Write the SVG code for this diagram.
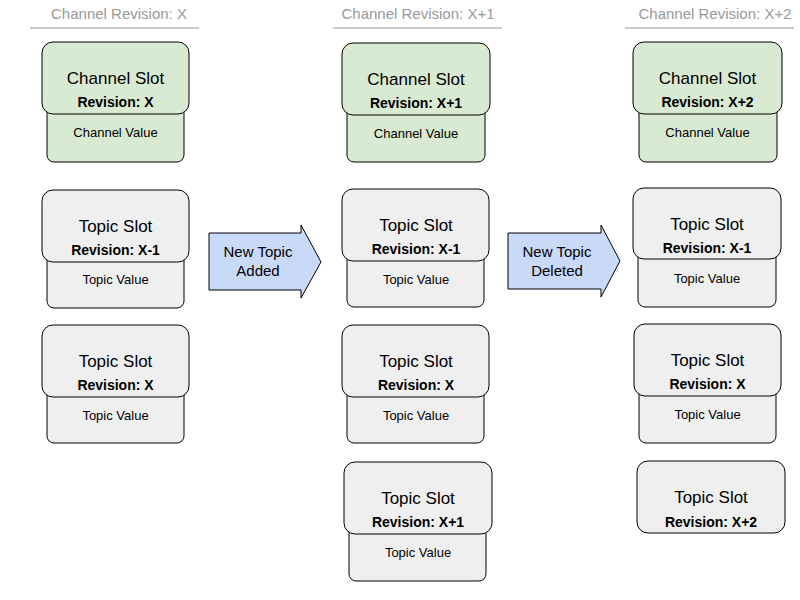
<svg xmlns="http://www.w3.org/2000/svg" width="800" height="600" viewBox="0 0 800 600">
<style>
text{font-family:"Liberation Sans",Arial,sans-serif;text-anchor:middle;fill:#000}
.hd{font-size:15px;fill:#999}
.hl{stroke:#999;stroke-width:1}
.t1{font-size:17px}
.t2{font-size:14px;font-weight:bold}
.t3{font-size:13px}
.ta{font-size:15px}
.g{fill:#d9ead3;stroke:#000;stroke-width:1}
.w{fill:#efefef;stroke:#000;stroke-width:1}
.b{fill:#c9daf8;stroke:#000;stroke-width:1}
</style>
<rect width="800" height="600" fill="#fff"/>
<g id="headers">
<text class="hd" x="119" y="19">Channel Revision: X</text>
<line class="hl" x1="30" y1="28" x2="199" y2="28"/>
<text class="hd" x="418" y="19">Channel Revision: X+1</text>
<line class="hl" x1="333" y1="28" x2="502" y2="28"/>
<text class="hd" x="715" y="19">Channel Revision: X+2</text>
<line class="hl" x1="625" y1="28" x2="794" y2="28"/>
</g>
<g id="col1-channel">
<rect class="g" x="47" y="102" width="137" height="60" rx="7"/>
<rect class="g" x="42" y="42" width="147" height="72" rx="11"/>
<text class="t1" x="115.5" y="84">Channel Slot</text>
<text class="t2" x="115.5" y="107">Revision: X</text>
<text class="t3" x="115.5" y="137">Channel Value</text>
</g>
<g id="col1-topic1">
<rect class="w" x="47" y="250" width="137" height="58" rx="7"/>
<rect class="w" x="42" y="190" width="147" height="72" rx="11"/>
<text class="t1" x="115.5" y="232">Topic Slot</text>
<text class="t2" x="115.5" y="255">Revision: X-1</text>
<text class="t3" x="115.5" y="284">Topic Value</text>
</g>
<g id="col1-topic2">
<rect class="w" x="47" y="385" width="137" height="58" rx="7"/>
<rect class="w" x="42" y="325" width="147" height="72" rx="11"/>
<text class="t1" x="115.5" y="367">Topic Slot</text>
<text class="t2" x="115.5" y="390">Revision: X</text>
<text class="t3" x="115.5" y="420">Topic Value</text>
</g>
<g id="col2-channel">
<rect class="g" x="347" y="103" width="138" height="59" rx="7"/>
<rect class="g" x="342" y="43" width="148" height="72" rx="11"/>
<text class="t1" x="416" y="85">Channel Slot</text>
<text class="t2" x="416" y="108">Revision: X+1</text>
<text class="t3" x="416" y="138">Channel Value</text>
</g>
<g id="col2-topic1">
<rect class="w" x="347" y="249" width="137" height="58" rx="7"/>
<rect class="w" x="342" y="189" width="147" height="72" rx="11"/>
<text class="t1" x="416" y="231">Topic Slot</text>
<text class="t2" x="416" y="254">Revision: X-1</text>
<text class="t3" x="416" y="284">Topic Value</text>
</g>
<g id="col2-topic2">
<rect class="w" x="347" y="385" width="137" height="58" rx="7"/>
<rect class="w" x="342" y="325" width="147" height="72" rx="11"/>
<text class="t1" x="416" y="367">Topic Slot</text>
<text class="t2" x="416" y="390">Revision: X</text>
<text class="t3" x="416" y="420">Topic Value</text>
</g>
<g id="col2-topic3">
<rect class="w" x="349" y="522" width="137" height="59" rx="7"/>
<rect class="w" x="344" y="462" width="148" height="72" rx="11"/>
<text class="t1" x="418" y="504">Topic Slot</text>
<text class="t2" x="418" y="527">Revision: X+1</text>
<text class="t3" x="418" y="557">Topic Value</text>
</g>
<g id="col3-channel">
<rect class="g" x="639" y="102" width="138" height="60" rx="7"/>
<rect class="g" x="633" y="42" width="149" height="72" rx="11"/>
<text class="t1" x="707.5" y="84">Channel Slot</text>
<text class="t2" x="707.5" y="107">Revision: X+2</text>
<text class="t3" x="707.5" y="137">Channel Value</text>
</g>
<g id="col3-topic1">
<rect class="w" x="638" y="248" width="138" height="59" rx="7"/>
<rect class="w" x="633" y="188" width="148" height="71" rx="11"/>
<text class="t1" x="707" y="230">Topic Slot</text>
<text class="t2" x="707" y="253">Revision: X-1</text>
<text class="t3" x="707" y="283">Topic Value</text>
</g>
<g id="col3-topic2">
<rect class="w" x="639" y="384" width="137" height="59" rx="7"/>
<rect class="w" x="634" y="324" width="147" height="72" rx="11"/>
<text class="t1" x="707.5" y="366">Topic Slot</text>
<text class="t2" x="707.5" y="389">Revision: X</text>
<text class="t3" x="707.5" y="419">Topic Value</text>
</g>
<g id="col3-topic3">
<rect class="w" x="637" y="461" width="148" height="72" rx="11"/>
<text class="t1" x="711" y="503">Topic Slot</text>
<text class="t2" x="711" y="527">Revision: X+2</text>
</g>
<g id="connectors">
<g id="arrow-added">
<path class="b" d="M209,233 L301,233 L301,225 L321,262 L301,298 L301,290 L209,290 Z"/>
<text class="ta" x="258" y="257">New Topic</text>
<text class="ta" x="258" y="276">Added</text>
</g>
<g id="arrow-deleted">
<path class="b" d="M508,233 L601,233 L601,225 L620,261 L601,297 L601,289 L508,289 Z"/>
<text class="ta" x="557" y="257">New Topic</text>
<text class="ta" x="557" y="276">Deleted</text>
</g>
</g>
</svg>
